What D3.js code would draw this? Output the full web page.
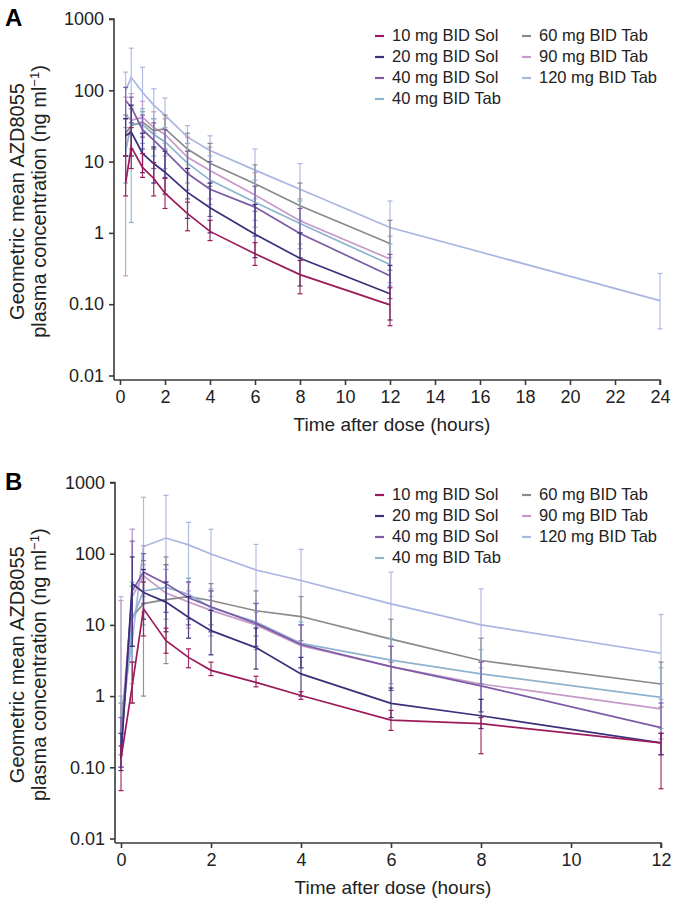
<!DOCTYPE html>
<html><head><meta charset="utf-8">
<script src="https://cdn.jsdelivr.net/npm/d3@7"></script>
<style>
html,body{margin:0;padding:0;background:#fff;}
text{font-family:Arial,"Liberation Sans",Helvetica,sans-serif;}
</style></head>
<body><svg id="chart" width="673" height="906"></svg>
<script>
// ---------- data ----------
const seriesNames = ["10 mg BID Sol","20 mg BID Sol","40 mg BID Sol","40 mg BID Tab","60 mg BID Tab","90 mg BID Tab","120 mg BID Tab"];
const seriesColors = ["#9b1b5a","#3a2f7a","#7d5aa6","#8eb3cf","#8a8a8a","#c59ac8","#aab6e2"];
const yTicks = [0.01,0.1,1,10,100,1000];
const yTickLabels = ["0.01","0.10","1","10","100","1000"];
const xTicksA = [0,2,4,6,8,10,12,14,16,18,20,22,24];
const xTicksB = [0,2,4,6,8,10,12];

// Panel A
const timesA = [0.25,0.5,1,1.5,2,3,4,6,8,12];
const timesA120 = [0.25,0.5,1,1.5,2,3,4,6,8,12,24];
const a10Sol  = [5,16,8.3,5.8,3.6,1.86,1.05,0.51,0.26,0.098];
const a10SolUp= [12,30,13,9.7,5.8,2.7,1.5,0.73,0.41,0.17];
const a10SolLo= [3.3,8,6,3.3,2.2,1.07,0.78,0.35,0.14,0.05];
const a20Sol  = [23,26,13,9.4,7.1,3.7,2.25,0.96,0.44,0.14];
const a20SolUp= [40,62,25,16,14,8,5,2.5,1.0,0.35];
const a20SolLo= [12,12,7,5,3.5,1.6,1.0,0.45,0.18,0.06];
const a40Sol  = [72,58,28,20,14,6.8,4.1,2.3,0.98,0.25];
const a40SolUp= [110,80,45,35,28,14,10,4.5,2.2,0.5];
const a40SolLo= [40,35,15,8,6,3,1.7,0.9,0.45,0.12];
const a40Tab  = [14,34,33,24,19,9.5,5.5,2.7,1.35,0.36];
const a40TabUp= [30,60,55,40,30,18,12,5.5,2.8,0.7];
const a40TabLo= [5,1.4,18,12,8,4,2.5,1.2,0.6,0.18];
const a60Tab  = [25,32,36,27,29,15,9.5,4.9,2.4,0.71];
const a60TabUp= [45,55,50,40,45,25,18,9,5,1.5];
const a60TabLo= [12,15,22,15,15,7,4.5,2,1,0.3];
const a90Tab  = [45,38,42,30,24,11.5,7.5,3.4,1.48,0.43];
const a90TabUp= [80,90,70,50,40,22,16,7,3,0.9];
const a90TabLo= [0.25,12,22,15,12,5,3,1.5,0.7,0.2];
const a120Tab  = [100,152,94,62,45,22,14.3,7.6,4.1,1.19,0.112];
const a120TabUp= [180,390,210,105,78,32,23,15,9.4,2.8,0.27];
const a120TabLo= [40,60,40,25,18,8,5,3,1.5,0.45,0.045];

// Panel B
const timesB = [0,0.25,0.5,1,1.5,2,3,4,6,8,12];
const b10Sol  = [0.13,1.4,16.8,6.0,3.5,2.3,1.56,1.02,0.46,0.41,0.22];
const b10SolUp= [0.2,3,40,9,4.6,3.0,1.9,1.15,0.63,0.5,0.3];
const b10SolLo= [0.047,0.8,7,4,2.5,1.94,1.35,0.9,0.33,0.155,0.05];
const b20Sol  = [0.135,38,28.6,20.9,12.8,8.3,4.8,2.05,0.79,0.53,0.22];
const b20SolUp= [0.3,90,60,40,25,16,9,3.5,1.3,0.9,0.3];
const b20SolLo= [0.09,5,12,8,6.5,3.8,2.4,1.0,0.5,0.35,0.15];
const b40Sol  = [0.18,30,55,38,24,18,10.5,5.3,2.6,1.39,0.36];
const b40SolUp= [0.5,150,100,70,40,30,20,10,5,3,0.8];
const b40SolLo= [0.1,5,20,15,10,8,5,2.5,1.2,0.6,0.15];
const b40Tab  = [0.22,12,30,33.7,27,17.5,11,5.5,3.2,2.05,0.96];
const b40TabUp= [1,40,70,60,45,30,20,11,6.5,4.5,2.5];
const b40TabLo= [0.1,3,10,15,12,8,5,2.5,1.5,0.9,0.35];
const b60Tab  = [0.3,13,19.9,22.6,25,22,15.8,13.1,6.3,3.16,1.48];
const b60TabUp= [0.8,35,80,90,45,38,30,25,12,6.5,3];
const b60TabLo= [0.15,0.8,1.0,2.86,12,10,7,6,3,1.5,0.7];
const b90Tab  = [0.35,25,49,28,21,16,10,5.1,2.6,1.48,0.66];
const b90TabUp= [22,220,130,60,40,32,20,10,5,3,1.5];
const b90TabLo= [0.1,3,15,12,9,7,4.5,2.5,1.2,0.6,0.25];
const b120Tab  = [0.5,6,126,166,133,99,59,42,19.7,10,4.0];
const b120TabUp= [25,220,620,660,276,220,135,115,55,32,14];
const b120TabLo= [0.1,1.5,25,40,30,25,15,10,5,2.5,0.9];

const panelA = [
  {t:timesA, v:a10Sol, up:a10SolUp, lo:a10SolLo},
  {t:timesA, v:a20Sol, up:a20SolUp, lo:a20SolLo},
  {t:timesA, v:a40Sol, up:a40SolUp, lo:a40SolLo},
  {t:timesA, v:a40Tab, up:a40TabUp, lo:a40TabLo},
  {t:timesA, v:a60Tab, up:a60TabUp, lo:a60TabLo},
  {t:timesA, v:a90Tab, up:a90TabUp, lo:a90TabLo},
  {t:timesA120, v:a120Tab, up:a120TabUp, lo:a120TabLo}
];
const panelB = [
  {t:timesB, v:b10Sol, up:b10SolUp, lo:b10SolLo},
  {t:timesB, v:b20Sol, up:b20SolUp, lo:b20SolLo},
  {t:timesB, v:b40Sol, up:b40SolUp, lo:b40SolLo},
  {t:timesB, v:b40Tab, up:b40TabUp, lo:b40TabLo},
  {t:timesB, v:b60Tab, up:b60TabUp, lo:b60TabLo},
  {t:timesB, v:b90Tab, up:b90TabUp, lo:b90TabLo},
  {t:timesB, v:b120Tab, up:b120TabUp, lo:b120TabLo}
];

// ---------- drawing ----------
const svg = d3.select("#chart");
const axisColor = "#3a3a3a";

function drawPanel(cfg){
  const g = svg.append("g");
  const x = d3.scaleLinear().domain(cfg.xDomain).range([cfg.x0, cfg.x1]);
  const y = d3.scaleLog().domain([0.01,1000]).range([cfg.yBottom, cfg.yTop]);

  // panel letter
  g.append("text").attr("x",5).attr("y",cfg.yTop+7).attr("font-size",24).attr("font-weight","bold").text(cfg.letter);

  // y axis
  const yAxis = d3.axisLeft(y).tickValues(yTicks).tickFormat((d,i)=>yTickLabels[i]).tickSize(5).tickPadding(5);
  const ya = g.append("g").attr("transform",`translate(${cfg.yAxisX},0)`).call(yAxis);
  ya.select(".domain").attr("d",`M-5,${cfg.yTop}H0V${cfg.xAxisY}`);
  // x axis
  const xAxis = d3.axisBottom(x).tickValues(cfg.xTicks).tickFormat(d3.format("d")).tickSize(5).tickPadding(5);
  const xa = g.append("g").attr("transform",`translate(0,${cfg.xAxisY})`).call(xAxis);
  xa.select(".domain").attr("d",`M${cfg.yAxisX},0H${cfg.x1}V5`);
  [ya,xa].forEach(a=>{
    a.selectAll("path,line").attr("stroke",axisColor).attr("stroke-width",1.6);
    a.selectAll("text").attr("font-size",18).attr("fill","#222").attr("font-family",'Arial,"Liberation Sans",sans-serif');
  });

  // axis titles
  g.append("text").attr("x",(cfg.x0+cfg.x1)/2+2).attr("y",cfg.xAxisY+51).attr("text-anchor","middle")
    .attr("font-size",19).attr("fill","#222").text("Time after dose (hours)");
  const cy = (cfg.yTop+cfg.xAxisY)/2 + 2;
  g.append("text").attr("transform",`translate(24,${cy}) rotate(-90)`).attr("text-anchor","middle")
    .attr("font-size",20).attr("fill","#222").text("Geometric mean AZD8055");
  const t2 = g.append("text").attr("transform",`translate(46,${cy}) rotate(-90)`).attr("text-anchor","middle")
    .attr("font-size",20).attr("fill","#222");
  t2.append("tspan").text("plasma concentration (ng ml");
  t2.append("tspan").attr("dy",-7).attr("font-size",13).text("−1");
  t2.append("tspan").attr("dy",7).text(")");

  // series (back to front: 120 first, 10 last)
  const line = d3.line().x(d=>x(d[0])).y(d=>y(d[1]));
  for(let s=cfg.data.length-1; s>=0; s--){
    const ser = cfg.data[s], col = seriesColors[s];
    const sg = g.append("g");
    ser.t.forEach((t,i)=>{
      const xx = x(t), yu = y(ser.up[i]), yl = y(ser.lo[i]);
      sg.append("line").attr("x1",xx).attr("x2",xx).attr("y1",yu).attr("y2",yl)
        .attr("stroke",col).attr("stroke-width",1.2).attr("opacity",0.9);
      [yu,yl].forEach(yy=>sg.append("line").attr("x1",xx-2.5).attr("x2",xx+2.5).attr("y1",yy).attr("y2",yy)
        .attr("stroke",col).attr("stroke-width",1.2));
    });
    sg.append("path").datum(ser.t.map((t,i)=>[t,ser.v[i]])).attr("d",line)
      .attr("fill","none").attr("stroke",col).attr("stroke-width",1.7);
  }

  // legend
  const lg = g.append("g");
  seriesNames.forEach((n,i)=>{
    const col = i<4?0:1, row = i<4?i:i-4;
    const lx = col===0?375:522, ly = cfg.legendY + row*21;
    lg.append("line").attr("x1",lx).attr("x2",lx+9).attr("y1",ly-5).attr("y2",ly-5)
      .attr("stroke",seriesColors[i]).attr("stroke-width",2.2);
    lg.append("text").attr("x",lx+17).attr("y",ly).attr("font-size",16.5).attr("fill","#222").text(n);
  });
}

drawPanel({letter:"A", xDomain:[0,24], x0:120, x1:660, yTop:19, yBottom:375.5, yAxisX:114, xAxisY:380,
  xTicks:xTicksA, data:panelA, legendY:41});
drawPanel({letter:"B", xDomain:[0,12], x0:121, x1:661, yTop:482.5, yBottom:838.5, yAxisX:115, xAxisY:843,
  xTicks:xTicksB, data:panelB, legendY:500});
</script></body></html>
